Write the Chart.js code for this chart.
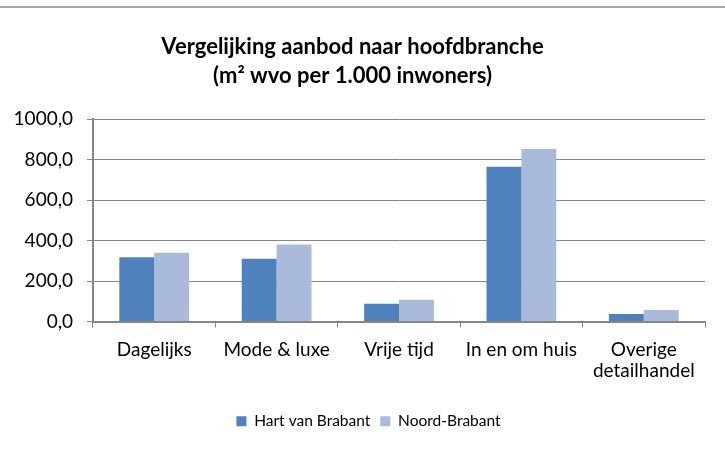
<!DOCTYPE html>
<html>
<head>
<meta charset="utf-8">
<script src="https://cdn.jsdelivr.net/npm/chart.js@4.4.1/dist/chart.umd.min.js"></script>
<style>
    html, body { margin: 0; padding: 0; background: #fff; }
    #wrap { position: relative; width: 725px; height: 449px; }
    #box { position: absolute; left: 0; top: 0; width: 725px; height: 449px; }
    #topline { position: absolute; left: 0; top: 6px; width: 725px; height: 2px; background: #a6a6a6; z-index: 2; }
</style>
</head>
<body>
<div id="wrap">
    <div id="box"><canvas id="myChart"></canvas></div>
    <div id="topline"></div>
</div>
<script>
const categories = ["Dagelijks", "Mode & luxe", "Vrije tijd", "In en om huis", ["Overige", "detailhandel"]];
const hartVanBrabant = [318, 310, 88, 765, 37];
const noordBrabant = [340, 381, 108, 853, 57];
const yTicks = [0, 200, 400, 600, 800, 1000];

const gridGray = "#868686";
const fontFam = "Lato, 'Open Sans', sans-serif";

// nudge the legend a bit to the right, like the original
const legendShift = {
    id: 'legendShift',
    afterLayout: function (chart) {
        chart.legend.left += 16;
        chart.legend.right += 16;
    }
};

const ctx = document.getElementById('myChart').getContext('2d');

const chart = new Chart(ctx, {
    type: 'bar',
    data: {
        labels: categories,
        datasets: [{
            label: "Hart van Brabant",
            data: hartVanBrabant,
            backgroundColor: "#4f81bd",
            borderWidth: 0,
            categoryPercentage: 0.57,
            barPercentage: 1.0
        }, {
            label: "Noord-Brabant",
            data: noordBrabant,
            backgroundColor: "#aabadb",
            borderWidth: 0,
            categoryPercentage: 0.57,
            barPercentage: 1.0
        }]
    },
    plugins: [legendShift],
    options: {
        responsive: true,
        maintainAspectRatio: false,
        animation: false,
        layout: {
            padding: { left: 0, right: 20, top: 0, bottom: 10 }
        },
        scales: {
            y: {
                min: 0,
                max: 1000,
                afterBuildTicks: function (scale) {
                    scale.ticks = yTicks.map(v => ({ value: v }));
                },
                afterFit: function (scale) {
                    scale.width = 93;
                },
                grid: {
                    color: gridGray,
                    lineWidth: 1,
                    tickLength: 6,
                    drawTicks: true
                },
                border: { color: gridGray, width: 2 },
                ticks: {
                    color: "#000",
                    padding: 14,
                    font: { family: fontFam, size: 19 },
                    callback: function (value) {
                        return value.toFixed(1).replace(".", ",");
                    }
                }
            },
            x: {
                afterFit: function (scale) {
                    scale.height = 82;
                },
                grid: {
                    offset: true,
                    drawOnChartArea: false,
                    color: gridGray,
                    tickLength: 6
                },
                border: { color: gridGray, width: 2 },
                ticks: {
                    color: "#000",
                    padding: 12,
                    maxRotation: 0,
                    font: { family: fontFam, size: 19, lineHeight: 1.1 }
                }
            }
        },
        plugins: {
            title: {
                display: true,
                text: ["Vergelijking aanbod naar hoofdbranche", "(m² wvo per 1.000 inwoners)"],
                color: "#000",
                font: { family: fontFam, size: 22, weight: 'bold', lineHeight: 1.3 },
                padding: { top: 33, bottom: 29 }
            },
            legend: {
                position: 'bottom',
                labels: {
                    color: "#000",
                    boxWidth: 10,
                    boxHeight: 10,
                    padding: 10,
                    font: { family: fontFam, size: 15.5 }
                }
            },
            tooltip: { enabled: false }
        }
    }
});
</script>
</body>
</html>
